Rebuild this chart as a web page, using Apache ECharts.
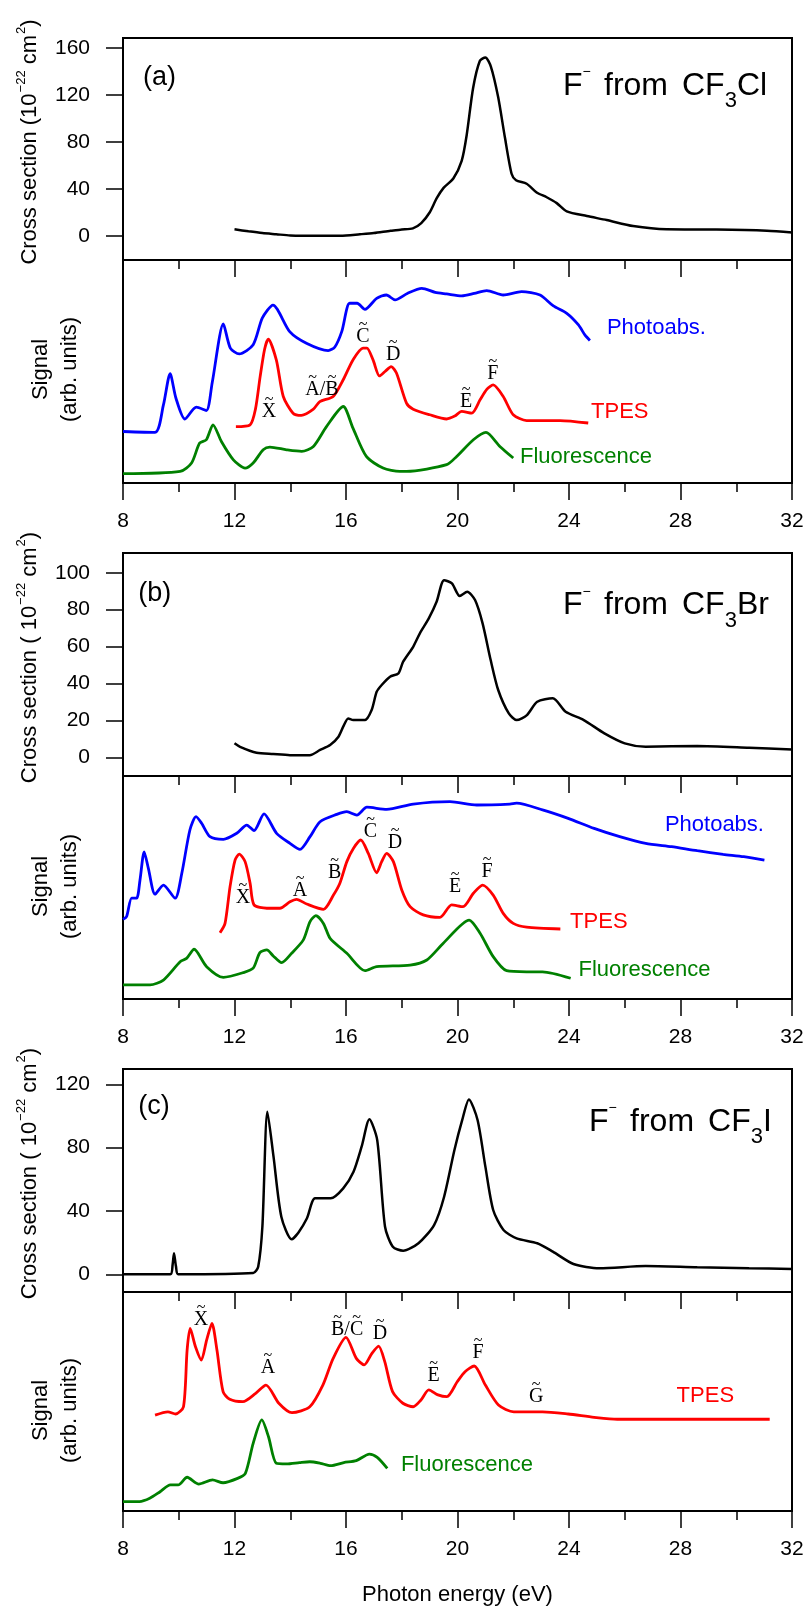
<!DOCTYPE html>
<html>
<head>
<meta charset="utf-8">
<script src="https://cdn.jsdelivr.net/npm/echarts@6.0.0/dist/echarts.min.js"></script>
<style>
html,body{margin:0;padding:0;background:#fff;}
#chart{width:809px;height:1612px;}
</style>
</head>
<body>
<div id="chart"></div>
<script>
// ---------------- DATA ----------------
const xTickValues = [8, 12, 16, 20, 24, 28, 32];
const csTicksA = [0, 40, 80, 120, 160];
const csTicksB = [0, 20, 40, 60, 80, 100];
const csTicksC = [0, 40, 80, 120];

// (a) F- from CF3Cl : cross section
const aCrossE = [12.0,12.5,13.0,13.5,14.0,15.0,15.8,16.5,17.0,17.6,18.0,18.4,18.7,19.0,19.25,19.5,19.85,20.15,20.33,20.56,20.8,21.0,21.2,21.46,21.7,21.94,22.1,22.48,22.84,23.2,23.56,23.92,24.64,25.35,26.3,27.5,29.3,31.1,32.0];
const aCrossV = [5.7,4.0,2.5,1.5,0.5,0.2,0.3,1.5,2.5,4.5,5.5,6.5,11,20,32,41,49,64,86,126,149,152,144,118,84,53,47.5,44.5,37,33,28,21,17,13.6,8.5,5.7,5.5,4.5,3.0];
// (a) signals
const aPhotoE = [8.0,9.15,9.45,9.69,9.9,10.22,10.63,10.99,11.2,11.6,11.85,12.17,12.67,13.0,13.38,13.98,14.58,15.36,15.6,15.85,16.13,16.4,16.68,17.1,17.45,17.76,18.2,18.72,19.2,19.61,20.15,20.6,21.05,21.64,22.3,22.96,23.44,23.92,24.34,24.57,24.75];
const aPhotoV = [23.1,22.7,35,49,38,28.7,34,32.5,45,71.3,60.5,57.9,62,74,79.8,67.9,62.7,59.4,61,68,80.6,80.6,77.9,82.8,84.3,82.1,85,87.3,85.5,84.8,83.9,85,86.3,84.3,85.8,84.3,79.4,76.1,70.9,66.4,63.9];
const aTpesE = [12.05,12.56,12.75,12.92,13.08,13.21,13.5,13.75,14.1,14.4,14.83,15.06,15.54,15.9,16.25,16.61,16.75,16.97,17.2,17.4,17.62,17.81,18.17,18.41,19.0,19.61,19.9,20.15,20.51,20.81,21.05,21.28,21.64,22.0,22.48,23.68,24.69];
const aTpesV = [25.3,26.1,33,47.7,60,64.5,55.2,38.8,31.3,30.3,33.1,36.5,38.8,46.3,55.2,60.5,60.5,55.2,48,50,52.2,49.3,35.8,33.1,30.6,28.7,30,32.1,31.3,37.3,42,44,38.8,30.6,28,28,26.9];
const aFluoE = [8.0,10.05,10.46,10.75,10.99,11.23,11.53,11.96,12.38,12.67,13.03,13.27,13.87,14.41,14.83,15.3,15.9,16.25,16.73,17.33,17.93,18.17,19.61,19.97,20.57,21.02,21.52,22.0];
const aFluoV = [4.2,5.2,9,17.9,19.4,26.1,18.6,10.4,6.7,9,14.9,16.1,14.9,14.2,16.4,25.3,34.3,24.6,11.9,6.7,5.2,5.2,8.2,11.9,19.4,22.7,16.4,11.2];

// (b) F- from CF3Br
const bCrossE = [12.0,12.2,12.79,13.39,13.99,14.7,15.07,15.43,15.73,15.9,16.08,16.26,16.68,16.92,17.1,17.28,17.58,17.88,18.05,18.41,18.65,18.97,19.25,19.52,19.8,20.08,20.35,20.63,20.9,21.19,21.46,21.84,22.12,22.49,22.86,23.42,23.88,24.53,25.27,26.0,26.75,28.6,30.46,32.0];
const bCrossV = [7.6,5.7,2.5,1.8,1.2,1.2,4,6.7,11.2,16.6,21.1,20.2,20.2,25.6,35.5,39.2,43.7,45.5,51.8,59.9,67.2,75.3,84.3,96,94.2,87.4,89.7,85.2,72.6,52.7,36.5,23.8,20.2,22.9,30.1,32,24.7,20.2,13,7.6,5.8,6.1,5.2,4.3];
const bPhotoE = [8.0,8.13,8.31,8.49,8.61,8.76,8.91,9.15,9.45,9.87,10.11,10.4,10.62,10.82,11.12,11.6,12.08,12.44,12.7,13.06,13.51,13.99,14.35,14.71,15.07,15.67,16.03,16.39,16.75,17.46,18.41,19.73,20.69,21.88,22.12,23.05,23.97,24.9,25.82,26.75,27.68,28.6,29.53,30.27,31.01];
const bPhotoV = [35.7,37,45.2,45.2,53.4,66,58.6,47,51.1,45.2,56.4,75.8,81.8,78.8,72.8,71.6,74.3,78,75.5,83,74.3,69.8,67.1,72.8,79.5,82.8,84,82.5,86,85,87.4,88.5,87,87.4,87.8,84.8,81,76.5,72.8,69.8,68.3,66.5,64.9,63.8,62.3];
const bTpesE = [11.48,11.66,11.84,12.02,12.17,12.38,12.56,12.7,13.16,13.63,13.99,14.23,14.59,15.19,15.55,15.78,16.03,16.27,16.53,16.8,17.1,17.28,17.46,17.7,18.0,18.3,18.77,19.37,19.79,20.2,20.57,20.9,21.28,21.64,22.0,22.48,23.69];
const bTpesV = [29.7,33.9,50.4,62.3,65,61.6,51.9,42.2,40.7,40.7,43.6,44.7,42.6,40.2,46.6,51.9,61.6,67.6,71.3,65.3,56.6,61.6,65.3,61.6,48.9,41.4,37.7,36.6,42.2,41.4,47.4,51.1,46.6,38.4,33.9,32.2,31.4];
const bFluoE = [8.0,8.97,9.45,10.05,10.28,10.55,11.0,11.6,12.31,12.67,12.91,13.16,13.39,13.69,14.05,14.47,14.71,14.92,15.19,15.43,16.03,16.68,17.1,18.3,18.9,19.49,20.42,20.81,21.28,21.76,22.48,23.05,24.06];
const bFluoV = [6.3,6.3,8.5,16.7,18.2,22.3,14.5,9.7,11.8,13.8,20.8,22,19.3,16.3,20.5,26.5,34.7,37.4,33.9,27.2,20.5,12.7,14.5,15.2,17.5,25,35.4,29.5,19,12.7,12.2,12.2,9.3];

// (c) F- from CF3I
const cCrossE = [8.0,9.7,9.78,9.83,9.9,9.98,12.67,12.85,13.0,13.18,13.4,13.68,14.05,14.29,14.6,14.89,15.45,15.9,16.27,16.56,16.84,17.12,17.4,17.68,18.05,18.6,19.16,19.52,19.89,20.17,20.41,20.72,21.0,21.28,21.65,22.12,22.86,23.42,24.16,25.09,26.75,28.6,30.46,32.0];
const cCrossV = [0,0,6,13.3,5,0,0.8,4.8,30,102.7,74.3,36.4,22.1,26.3,35.4,48,48,54.3,64.8,80.6,97.9,84.8,30,17.4,14.9,19.6,31.1,49,78.5,97.5,110.5,97.5,68,40.6,28,22.7,19.6,14.3,6.5,3.8,5.2,4.4,3.8,3.4];
const cTpesE = [9.15,9.61,9.89,10.17,10.3,10.41,10.6,10.81,11.0,11.19,11.37,11.59,11.83,12.3,12.76,13.13,13.59,14.06,14.7,15.17,15.54,16.0,16.37,16.65,16.93,17.17,17.39,17.67,18.04,18.41,18.69,18.97,19.3,19.62,19.99,20.27,20.6,21.0,21.47,22.02,23.05,23.97,24.9,25.73,31.2];
const cTpesV = [43.8,45.3,44.3,47.6,73.5,83.4,75,68.9,78,85.7,73.5,54.5,51,49.9,53.7,57.5,49.2,44.9,47.6,57.5,69.7,79.3,69.7,66.7,72,75.3,68.2,54.5,49.2,47.6,50.7,55.3,53,52.2,59,63.6,66.2,57.5,48.4,45.3,45.3,44.3,42.8,41.9,41.9];
const cFluoE = [8.0,8.59,8.96,9.33,9.7,9.98,10.3,10.72,11.21,11.59,12.11,12.39,12.67,12.98,13.22,13.5,13.87,14.33,14.7,15.08,15.45,15.92,16.37,16.84,17.12,17.48];
const cFluoV = [4.3,4.3,5.8,8.8,11.9,11.9,15.4,12.3,14.2,12.9,14.9,17.2,30.9,41.6,33.9,21.8,21.5,22.1,22.5,21.8,20.7,22.1,23,26,24.5,19.5];

// state labels (letter, energy, signal level)
const statesA = [['X',13.24,32.1],['A/B',15.14,41.8],['C',16.61,65.4],['D',17.69,57.5],['E',20.31,36.5],['F',21.27,48.9]];
const statesB = [['X',12.3,45.2],['A',14.35,48.4],['B',15.59,56.6],['C',16.88,75],['D',17.76,70.1],['E',19.91,50.4],['F',21.06,57.1]];
const statesC = [['X',10.8,87.5],['A',13.2,65.4],['B/C',16.04,82.6],['D',17.22,81.1],['E',19.14,61.6],['F',20.74,72.3],['G',22.82,52.2]];

// ---------------- LAYOUT / STYLE ----------------
const SANS = 'Liberation Sans';
const SERIF = 'Liberation Serif';
const BLUE = '#0000ff', RED = '#ff0000', GREEN = '#008000', BLACK = '#000000';

const grids = [
  {top: 38,   height: 222},   // a top
  {top: 260,  height: 223},   // a bottom
  {top: 553,  height: 223},   // b top
  {top: 776,  height: 223},   // b bottom
  {top: 1069, height: 223},   // c top
  {top: 1292, height: 219}    // c bottom
].map(g => ({left: 123, right: 17, top: g.top, height: g.height, show: true,
  borderColor: '#000', borderWidth: 2, backgroundColor: 'transparent', containLabel: false, outerBoundsMode: 'none'}));

const yRanges = [[-20.4,168.5],[0,100],[-10.1,110.7],[0,100],[-11.2,129.7],[0,100]];
const yTicks = [csTicksA, null, csTicksB, null, csTicksC, null];

const xAxes = grids.map((g, i) => ({
  gridIndex: i, type: 'value', min: 8, max: 32, interval: 4,
  axisLine: {show: true, onZero: false, lineStyle: {color: '#000', width: 2}},
  axisTick: {show: true, inside: false, length: 17, lineStyle: {color: '#000', width: 1.5}},
  minorTick: {show: true, splitNumber: 2, length: 9, lineStyle: {color: '#000', width: 1.5}},
  axisLabel: {show: i % 2 === 1, margin: 28, fontSize: 21, color: '#000', fontFamily: SANS,
    showMinLabel: true, showMaxLabel: true, customValues: xTickValues},
  splitLine: {show: false}, minorSplitLine: {show: false}
}));

const yAxes = grids.map((g, i) => {
  const top = yTicks[i] !== null;
  return {
    gridIndex: i, type: 'value', min: yRanges[i][0], max: yRanges[i][1],
    axisLine: {show: true, onZero: false, lineStyle: {color: '#000', width: 2}},
    axisTick: top ? {show: true, length: 17, customValues: yTicks[i], lineStyle: {color: '#000', width: 1.5}} : {show: false},
    axisLabel: top ? {show: true, margin: 33, fontSize: 21, color: '#000', fontFamily: SANS, customValues: yTicks[i]} : {show: false},
    splitLine: {show: false}
  };
});

function zip(E, V) { const n = Math.min(E.length, V.length); const out = []; for (let k = 0; k < n; k++) out.push([E[k], V[k]]); return out; }
function line(i, E, V, color, w) {
  return {type: 'line', xAxisIndex: i, yAxisIndex: i, data: zip(E, V), showSymbol: false, symbol: 'none',
    smooth: 0.25, lineStyle: {color: color, width: w}, itemStyle: {color: color}, silent: true, z: 3};
}

const series = [
  line(0, aCrossE, aCrossV, BLACK, 2.5),
  line(1, aPhotoE, aPhotoV, BLUE, 2.8),
  line(1, aTpesE, aTpesV, RED, 2.8),
  line(1, aFluoE, aFluoV, GREEN, 2.8),
  line(2, bCrossE, bCrossV, BLACK, 2.5),
  line(3, bPhotoE, bPhotoV, BLUE, 2.8),
  line(3, bTpesE, bTpesV, RED, 2.8),
  line(3, bFluoE, bFluoV, GREEN, 2.8),
  line(4, cCrossE, cCrossV, BLACK, 2.5),
  line(5, cTpesE, cTpesV, RED, 2.8),
  line(5, cFluoE, cFluoV, GREEN, 2.8)
];

const chart = echarts.init(document.getElementById('chart'), null, {renderer: 'canvas'});
chart.setOption({animation: false, backgroundColor: '#fff', grid: grids, xAxis: xAxes, yAxis: yAxes, series: series});

// ---------------- TEXT ANNOTATIONS ----------------
const ctx = document.createElement('canvas').getContext('2d');
function tw(s, fs, fam) { ctx.font = fs + 'px ' + fam; return ctx.measureText(s).width; }
const P = (g, x, y) => chart.convertToPixel({gridIndex: g}, [x, y]);
const G = [];

function txt(x, y, s, fs, fam, color, align, extra) {
  return Object.assign({type: 'text', x: x, y: y, z: 10, silent: true,
    style: {text: s, fontSize: fs, fontFamily: fam, fill: color, align: align || 'left', textAlign: align || 'left',
      verticalAlign: 'middle', textVerticalAlign: 'middle'}}, extra || {});
}
// pieces laid out along a baseline at local y = 0
function runPieces(pieces, fam, color) {
  let x = 0; const kids = [];
  for (const p of pieces) {
    if (p.at !== undefined) x = p.at; else x += (p.dx || 0);
    kids.push(txt(x, (p.dy || 0) - 0.3465 * p.fs, p.s, p.fs, fam, color, 'left'));
    x += tw(p.s, p.fs, fam);
  }
  return {kids: kids, width: x};
}

// series names
function seriesLabel(g, s, color, x, y) { const p = P(g, x, y); G.push(txt(p[0], p[1], s, 22, SANS, color, 'left')); }
seriesLabel(1, 'Photoabs.', BLUE, 25.36, 69.5);
seriesLabel(1, 'TPES', RED, 24.79, 31.9);
seriesLabel(1, 'Fluorescence', GREEN, 22.24, 11.8);
seriesLabel(3, 'Photoabs.', BLUE, 27.44, 78.0);
seriesLabel(3, 'TPES', RED, 24.04, 34.7);
seriesLabel(3, 'Fluorescence', GREEN, 24.34, 13.0);
seriesLabel(5, 'TPES', RED, 27.86, 52.6);
seriesLabel(5, 'Fluorescence', GREEN, 17.97, 21.0);

// electronic state letters with tilde
function stateLabel(g, item) {
  const s = item[0]; const p = P(g, item[1], item[2]);
  const fs = 20;
  let cx = p[0] - tw(s, fs, SERIF) / 2;
  for (const ch of s) {
    const w = tw(ch, fs, SERIF);
    G.push(txt(cx, p[1], ch, fs, SERIF, '#000', 'left'));
    if (/[A-Z]/.test(ch)) G.push(txt(cx + w / 2, p[1] - 12, '~', 16, SERIF, '#000', 'center'));
    cx += w;
  }
}
statesA.forEach(s => stateLabel(1, s));
statesB.forEach(s => stateLabel(3, s));
statesC.forEach(s => stateLabel(5, s));

// panel letters
function panelLetter(g, s, x, y) { const p = P(g, x, y); G.push(txt(p[0], p[1], s, 27, SANS, '#000', 'left')); }
panelLetter(0, '(a)', 8.72, 134.5);
panelLetter(2, '(b)', 8.55, 89);
panelLetter(4, '(c)', 8.55, 105.9);

// titles "F- from CF3X"
function title(g, x, y, halogen) {
  const p = P(g, x, y);
  const r = runPieces([
    {s: 'F', fs: 32, at: 0},
    {s: '\u2212', fs: 14, at: 19.5, dy: -19.5},
    {s: 'from', fs: 32, at: 41},
    {s: 'CF', fs: 32, at: 119},
    {s: '3', fs: 22, dx: 0, dy: 11.6},
    {s: halogen, fs: 32, dx: 0}
  ], SANS, '#000');
  G.push({type: 'group', x: p[0], y: p[1], children: r.kids});
}
title(0, 23.785, 118.5, 'Cl');
title(2, 23.785, 76.2, 'Br');
title(4, 24.72, 89.3, 'I');

// rotated axis titles
function rotated(cx, cy, pieces) {
  const r = runPieces(pieces, SANS, '#000');
  r.kids.forEach(k => { k.x -= r.width / 2; });
  G.push({type: 'group', x: cx, y: cy, rotation: Math.PI / 2, children: r.kids});
}
function crossTitle(g, spaced) {
  const yMid = (P(g, 8, yRanges[g][0])[1] + P(g, 8, yRanges[g][1])[1]) / 2 - 7;
  rotated(37.5, yMid, [
    {s: spaced ? 'Cross section ( 10' : 'Cross section (10', fs: 22},
    {s: '\u221222', fs: 13, dx: 1, dy: -11.5},
    {s: ' cm', fs: 22},
    {s: '2', fs: 13, dx: 1, dy: -11.5},
    {s: ')', fs: 22}
  ]);
}
crossTitle(0, false);
crossTitle(2, true);
crossTitle(4, true);
function signalTitle(g, dy) {
  const yMid = (P(g, 8, 0)[1] + P(g, 8, 100)[1]) / 2 + dy;
  rotated(49, yMid, [{s: 'Signal', fs: 22}]);
  rotated(77.5, yMid, [{s: '(arb. units)', fs: 22}]);
}
signalTitle(1, -2);
signalTitle(3, -1);
signalTitle(5, 9);

// x axis title
(function () {
  const p = P(5, 20, 0);
  G.push(txt(p[0], 1595, 'Photon energy (eV)', 22, SANS, '#000', 'center'));
})();

chart.setOption({graphic: G});
</script>
</body>
</html>
